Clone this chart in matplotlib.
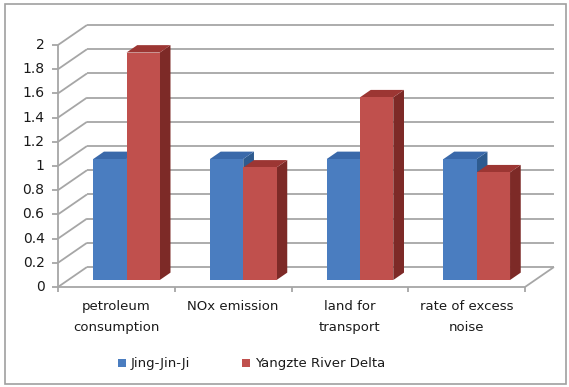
import matplotlib
matplotlib.use("Agg")
import matplotlib.pyplot as plt
from matplotlib.patches import Polygon, Rectangle

# data
categories = ["petroleum\nconsumption", "NOx emission", "land for\ntransport", "rate of excess\nnoise"]
series_names = ["Jing-Jin-Ji", "Yangzte River Delta"]
jing_jin_ji = [1.0, 1.0, 1.0, 1.0]
yangtze_delta = [1.88, 0.93, 1.51, 0.89]
y_ticks = [0, 0.2, 0.4, 0.6, 0.8, 1, 1.2, 1.4, 1.6, 1.8, 2]

# faces: front, top, side
blue_faces = ("#4a7dc0", "#3a69aa", "#2e5b8f")
red_faces = ("#c0504d", "#9c3633", "#7d2a27")
grid_color = "#a6a6a6"
font = "DejaVu Sans"
text_color = "#1a1a1a"

W, H = 569, 387
fig = plt.figure(figsize=(W / 100, H / 100), dpi=100)
# axes covers the front plane of the chart
ax = fig.add_axes([58 / W, 100 / H, 467 / W, 242 / H])
ax.set_xlim(0, len(categories))
ax.set_ylim(0, 2)
ax.axis("off")

# oblique depth of the box, in data units
DX, DY = 0.248, 0.165
# bar placement inside the depth
bar_d0, bar_d1 = 0.35, 0.72
bar_w = 0.285

def poly(pts, fc, ec="none", lw=0, z=2):
    ax.add_patch(Polygon(pts, closed=True, facecolor=fc, edgecolor=ec,
                         linewidth=lw, clip_on=False, zorder=z))

def line(xs, ys, **kw):
    kw.setdefault("color", grid_color)
    kw.setdefault("lw", 1.3)
    ax.plot(xs, ys, clip_on=False, solid_capstyle="butt", **kw)

n = len(categories)

# back wall gridlines and left wall diagonals
for v in y_ticks:
    line([DX, n + DX], [v + DY, v + DY], zorder=1)
    line([0, DX], [v, v + DY], zorder=1)

# floor edges
line([n, n + DX], [0, DY], zorder=1)
line([0, n], [0, 0], zorder=1)

# y axis with ticks
line([0, 0], [0, 2], zorder=5)
for v in y_ticks:
    line([-0.055, 0], [v, v], zorder=5)
    ax.text(-0.115, v, f"{v:g}", ha="right", va="center", fontsize=10,
            family=font, color=text_color)

# category ticks and labels
for i in range(n + 1):
    line([i, i], [0, -0.04], zorder=5)
for i, c in enumerate(categories):
    ax.text(i + 0.5, -0.11, c, ha="center", va="top", fontsize=9.5,
            family=font, color=text_color, linespacing=1.75)

def bar3d(x0, w, h, faces):
    fx0 = x0 + bar_d0 * DX
    fy0 = bar_d0 * DY
    ddx = (bar_d1 - bar_d0) * DX
    ddy = (bar_d1 - bar_d0) * DY
    front, top, side = faces
    # side face
    poly([(fx0 + w, fy0), (fx0 + w + ddx, fy0 + ddy),
          (fx0 + w + ddx, fy0 + ddy + h), (fx0 + w, fy0 + h)], side)
    # top face
    poly([(fx0, fy0 + h), (fx0 + w, fy0 + h),
          (fx0 + w + ddx, fy0 + h + ddy), (fx0 + ddx, fy0 + h + ddy)], top)
    # front face
    poly([(fx0, fy0), (fx0 + w, fy0), (fx0 + w, fy0 + h), (fx0, fy0 + h)], front)

for i in range(n):
    bar3d(i + 0.5 - bar_w, bar_w, jing_jin_ji[i], blue_faces)
    bar3d(i + 0.5, bar_w, yangtze_delta[i], red_faces)

# legend
for j, (name, faces) in enumerate(zip(series_names, [blue_faces, red_faces])):
    lx = 118 + j * 124
    fig.patches.append(Rectangle((lx / W, 1 - 367 / H), 8 / W, 8 / H,
                                 transform=fig.transFigure, facecolor=faces[0],
                                 edgecolor="none"))
    fig.text((lx + 13) / W, 1 - 363 / H, name, ha="left", va="center",
             fontsize=9.5, family=font, color=text_color)

# chart frame
fig.patches.append(Rectangle((5 / W, 1 - 384 / H), 561 / W, 380 / H,
                             transform=fig.transFigure, facecolor="none",
                             edgecolor="#a0a0a0", linewidth=1.2))

fig.savefig("out.png", dpi=100)
